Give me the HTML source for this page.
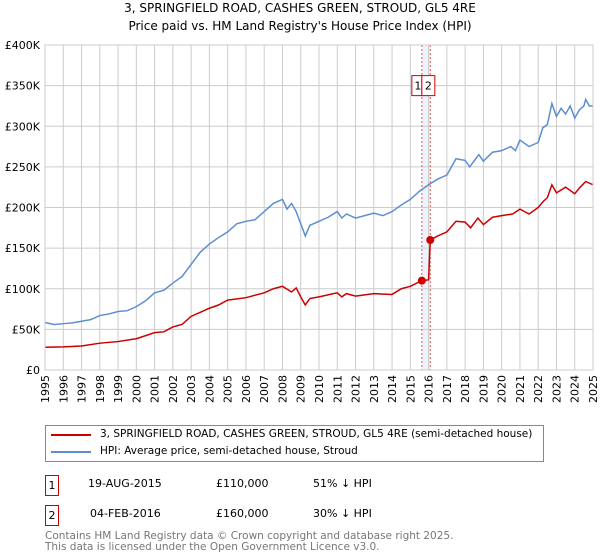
<!DOCTYPE html>
<html><head><meta charset="utf-8"><style>
body{margin:0;background:#fff;font-family:"DejaVu Sans","Liberation Sans",sans-serif;}
#wrap{position:relative;width:600px;height:560px;overflow:hidden}
.t{position:absolute;font-size:11px;color:#000;white-space:nowrap}
.box{position:absolute;border:1px solid #c00;width:12px;height:19px;text-align:center;font-size:11px;line-height:19px}
</style></head><body><div id="wrap">
<div class="t" style="left:0;width:600px;text-align:center;top:1px;font-size:12px">3, SPRINGFIELD ROAD, CASHES GREEN, STROUD, GL5 4RE</div>
<div class="t" style="left:0;width:600px;text-align:center;top:19px;font-size:12px">Price paid vs. HM Land Registry's House Price Index (HPI)</div>
<svg id="svg" width="600" height="420" style="position:absolute;left:0;top:0"></svg>
<div style="position:absolute;left:45px;top:425px;width:497px;height:35px;border:1px solid #888"></div>
<div style="position:absolute;left:51px;top:434px;width:40px;height:2px;background:#c00"></div>
<div class="t" style="left:100px;top:428px;font-size:10.5px">3, SPRINGFIELD ROAD, CASHES GREEN, STROUD, GL5 4RE (semi-detached house)</div>
<div style="position:absolute;left:51px;top:451px;width:40px;height:2px;background:#5b8fd0"></div>
<div class="t" style="left:100px;top:445px;font-size:10.5px">HPI: Average price, semi-detached house, Stroud</div>
<div class="box" style="left:45px;top:475px">1</div>
<div class="t" style="left:88px;top:477px">19-AUG-2015</div>
<div class="t" style="left:216px;top:477px">£110,000</div>
<div class="t" style="left:313px;top:477px">51% ↓ HPI</div>
<div class="box" style="left:45px;top:505px">2</div>
<div class="t" style="left:90px;top:507px">04-FEB-2016</div>
<div class="t" style="left:216px;top:507px">£160,000</div>
<div class="t" style="left:313px;top:507px">30% ↓ HPI</div>
<div class="t" style="left:45px;top:531px;color:#777;font-size:10.5px;line-height:11px">Contains HM Land Registry data © Crown copyright and database right 2025.<br>This data is licensed under the Open Government Licence v3.0.</div>
</div>
<script>
const yTicks=[0,50,100,150,200,250,300,350,400];
const yTickLabels=["£0","£50K","£100K","£150K","£200K","£250K","£300K","£350K","£400K"];
const years=[1995,1996,1997,1998,1999,2000,2001,2002,2003,2004,2005,2006,2007,2008,2009,2010,2011,2012,2013,2014,2015,2016,2017,2018,2019,2020,2021,2022,2023,2024,2025];
const hpiT=[1995,1995.5,1996,1996.5,1997,1997.5,1998,1998.5,1999,1999.5,2000,2000.5,2001,2001.5,2002,2002.5,2003,2003.5,2004,2004.5,2005,2005.5,2006,2006.5,2007,2007.5,2008,2008.25,2008.5,2008.75,2009,2009.25,2009.5,2010,2010.5,2011,2011.25,2011.5,2012,2012.5,2013,2013.5,2014,2014.5,2015,2015.5,2016,2016.5,2017,2017.5,2018,2018.25,2018.75,2019,2019.5,2020,2020.5,2020.75,2021,2021.5,2022,2022.25,2022.5,2022.75,2023,2023.25,2023.5,2023.75,2024,2024.25,2024.5,2024.6,2024.8,2025];
const hpiV=[58.5,56,57,58,60,62,67,69,72,73,78,85,95,98,107,115,130,145,155,163,170,180,183,185,195,205,210,198,205,195,180,165,178,183,188,195,187,192,187,190,193,190,195,203,210,220,228,235,240,260,258,250,265,257,268,270,275,270,283,275,280,298,302,328,312,322,315,325,310,320,325,333,325,325];
const ppT=[1995,1996,1997,1998,1999,2000,2001,2001.5,2002,2002.5,2003,2003.5,2004,2004.5,2005,2006,2007,2007.5,2008,2008.5,2008.75,2009,2009.25,2009.5,2010,2011,2011.25,2011.5,2012,2013,2014,2014.5,2015,2015.63,2016.0,2016.09,2016.5,2017,2017.5,2018,2018.3,2018.7,2019,2019.5,2020,2020.6,2021,2021.5,2022,2022.3,2022.5,2022.75,2023,2023.5,2024,2024.3,2024.6,2025];
const ppV=[28,28.5,29.5,33,35,38.5,46,47,53,56,66,71,76,80,86,89,95,100,103,96,101,90,80,88,90,95,90,94,91,94,93,100,103,110,111,160,165,170,183,182,175,187,179,188,190,192,198,192,200,208,212,228,218,225,217,225,232,228];
const saleT=[2015.63,2016.09];
const saleV=[110,160];
const saleLabels=["1","2"];
const L=45,R=593,T=45,B=370;
const X=t=>L+(t-1995)/30*(R-L);
const Y=v=>B-v/400*(B-T);
const svg=document.getElementById('svg');
const NS='http://www.w3.org/2000/svg';
const FF='DejaVu Sans, Liberation Sans, sans-serif';
function mk(tag,attrs){const e=document.createElementNS(NS,tag);for(const k in attrs)e.setAttribute(k,attrs[k]);svg.appendChild(e);return e;}
const band=mk('rect',{x:X(saleT[0]),y:T,width:X(saleT[1])-X(saleT[0]),height:B-T,fill:'#eef2fb'});


yTicks.forEach((v,i)=>{
 const g=mk('line',{x1:L,x2:R,y1:Y(v),y2:Y(v),stroke:'#ccc','stroke-width':1});
 
 
 const tx=mk('text',{x:L-5,y:Y(v)+4,'text-anchor':'end','font-size':11,'font-family':FF});
 tx.textContent=yTickLabels[i];
 
 
});
years.forEach(yr=>{
 const g=mk('line',{x1:X(yr),x2:X(yr),y1:T,y2:B,stroke:'#ccc','stroke-width':1});
 
 
 const tx=mk('text',{x:0,y:0,'text-anchor':'end','font-size':11,'font-family':FF,transform:`translate(${X(yr)+4},${B+5}) rotate(-90)`});
 tx.textContent=yr;
 
 
});
saleT.forEach((t,i)=>{
 const l=mk('line',{x1:X(t),x2:X(t),y1:T,y2:B,stroke:'#e55','stroke-width':1,'stroke-dasharray':'2,2'});
 
 
});
const hp=mk('polyline',{points:hpiT.map((t,i)=>X(t)+','+Y(hpiV[i])).join(' '),fill:'none',stroke:'#5b8fd0','stroke-width':1.5});


const pp=mk('polyline',{points:ppT.map((t,i)=>X(t)+','+Y(ppV[i])).join(' '),fill:'none',stroke:'#c00','stroke-width':1.5});


saleT.forEach((t,i)=>{
 const c=mk('circle',{cx:X(t),cy:Y(saleV[i]),r:4,fill:'#c00'});
 
 
});
const bx1=X(saleT[0])-10;
const bx2=bx1+10;
[[bx1,10],[bx2,13]].forEach((b,i)=>{
 const r=mk('rect',{x:b[0],y:Y(350)-10,width:b[1],height:20,fill:'#fff',stroke:'#c00'});
 
 
 const tx=mk('text',{x:b[0]+b[1]/2+(i===0?1:0),y:Y(350)+4,'text-anchor':'middle','font-size':11,'font-family':FF});
 tx.textContent=saleLabels[i];
 
 
});
const ax=mk('rect',{x:L,y:T,width:R-L,height:B-T,fill:'none',stroke:'#ccc'});


</script></body></html>
